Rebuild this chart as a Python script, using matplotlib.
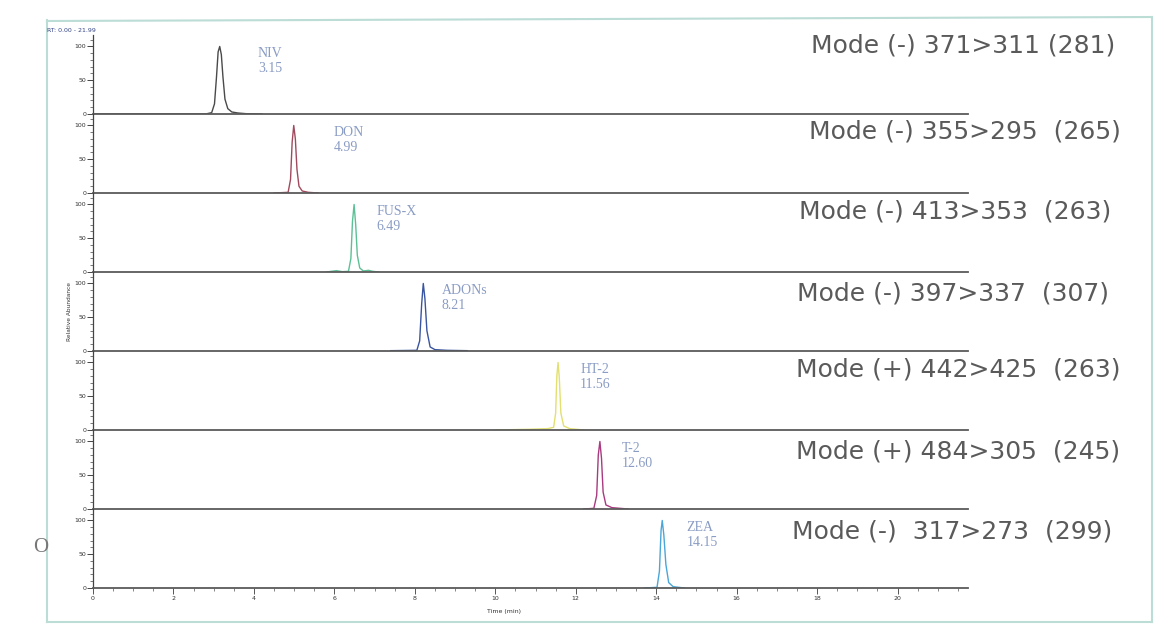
import numpy as np
import matplotlib
matplotlib.use('Agg')
import matplotlib.pyplot as plt
from matplotlib.ticker import MultipleLocator
from matplotlib.lines import Line2D

# compounds, retention times and MRM transitions
names = ['NIV', 'DON', 'FUS-X', 'ADONs', 'HT-2', 'T-2', 'ZEA']
rts = ['3.15', '4.99', '6.49', '8.21', '11.56', '12.60', '14.15']
modes = ['Mode (-) 371>311 (281)',
         'Mode (-) 355>295  (265)',
         'Mode (-) 413>353  (263)',
         'Mode (-) 397>337  (307)',
         'Mode (+) 442>425  (263)',
         'Mode (+) 484>305  (245)',
         'Mode (-)  317>273  (299)']
colors = ['#4a4a4a', '#a04a5e', '#5cc095', '#3a55a0', '#e2e070', '#a83a80', '#4aa6d8']

# trace points (time in min, relative abundance)
t_niv = [0.0, 2.80, 2.95, 3.02, 3.07, 3.11, 3.15, 3.19, 3.23, 3.28, 3.35, 3.45, 3.60, 3.80, 4.20]
y_niv = [0.0, 0.0, 2.0, 15.0, 55.0, 92.0, 100.0, 88.0, 55.0, 22.0, 8.0, 3.0, 1.5, 0.5, 0.0]
t_don = [4.50, 4.85, 4.91, 4.95, 4.99, 5.03, 5.07, 5.12, 5.20, 5.35, 5.60]
y_don = [0.0, 1.0, 20.0, 75.0, 100.0, 80.0, 35.0, 10.0, 3.0, 1.0, 0.0]
t_fus = [5.80, 6.05, 6.20, 6.35, 6.41, 6.45, 6.49, 6.53, 6.57, 6.63, 6.72, 6.85, 6.95, 7.10]
y_fus = [0.0, 2.0, 0.5, 1.0, 20.0, 75.0, 100.0, 70.0, 25.0, 6.0, 1.5, 2.5, 1.0, 0.0]
t_adon = [7.40, 8.05, 8.12, 8.17, 8.21, 8.25, 8.30, 8.38, 8.50, 8.80, 9.30]
y_adon = [0.5, 1.0, 15.0, 70.0, 100.0, 78.0, 30.0, 6.0, 2.0, 1.0, 0.5]
t_ht2 = [10.00, 10.80, 11.30, 11.45, 11.50, 11.53, 11.56, 11.59, 11.63, 11.70, 11.85, 12.20]
y_ht2 = [0.0, 1.0, 2.0, 4.0, 25.0, 80.0, 100.0, 78.0, 25.0, 6.0, 2.0, 0.0]
t_t2 = [12.20, 12.45, 12.52, 12.56, 12.60, 12.64, 12.68, 12.75, 12.90, 13.30]
y_t2 = [0.0, 1.0, 20.0, 80.0, 100.0, 75.0, 25.0, 6.0, 2.0, 0.0]
t_zea = [13.70, 14.02, 14.08, 14.12, 14.15, 14.19, 14.24, 14.31, 14.42, 14.70]
y_zea = [0.0, 1.0, 25.0, 85.0, 100.0, 78.0, 35.0, 8.0, 2.0, 0.0]
times = [t_niv, t_don, t_fus, t_adon, t_ht2, t_t2, t_zea]
values = [y_niv, y_don, y_fus, y_adon, y_ht2, y_t2, y_zea]

W, H = 1155, 626
fig = plt.figure(figsize=(W / 100, H / 100), dpi=100)

# light scan frame
frame = '#bcdcd6'
fig.add_artist(Line2D([47 / W, 47 / W], [1 - 20 / H, 1 - 622 / H], color=frame, lw=1.5))
fig.add_artist(Line2D([1152 / W, 1152 / W], [1 - 18 / H, 1 - 622 / H], color=frame, lw=1.5))
fig.add_artist(Line2D([47 / W, 1152 / W], [1 - 21 / H, 1 - 17 / H], color=frame, lw=1.5))
fig.add_artist(Line2D([47 / W, 1152 / W], [1 - 622 / H, 1 - 622 / H], color=frame, lw=1.5))

x0, x1 = 93, 968
xmax = 21.75
base0 = 114
step = 79
ytop = 117

lab_dx = [0.95, 1.0, 0.55, 0.45, 0.55, 0.55, 0.6]

for i in range(7):
    b = base0 + i * step
    ax = fig.add_axes([x0 / W, 1 - b / H, (x1 - x0) / W, step / H])
    ax.patch.set_alpha(0)
    ax.plot(times[i], values[i], color=colors[i], lw=1.0)
    ax.set_xlim(0, xmax)
    ax.set_ylim(0, ytop)
    for s in ['top', 'right']:
        ax.spines[s].set_visible(False)
    ax.spines['bottom'].set_color('#5a5a5a')
    ax.spines['bottom'].set_linewidth(1.3)
    ax.spines['left'].set_color('#444444')
    ax.spines['left'].set_linewidth(0.9)
    ax.yaxis.set_minor_locator(MultipleLocator(10))
    ax.set_yticks([0, 50, 100])
    ax.set_yticklabels(['0', '50', '100'], fontsize=4.5, color='#333333')
    ax.tick_params(axis='y', which='major', length=4, width=0.7, pad=1, color='#444444')
    ax.tick_params(axis='y', which='minor', length=2, width=0.5, color='#444444')
    if i < 6:
        ax.set_xticks([])
    else:
        ax.xaxis.set_major_locator(MultipleLocator(2))
        ax.xaxis.set_minor_locator(MultipleLocator(0.5))
        ax.tick_params(axis='x', which='major', length=4, width=0.7, pad=2,
                       labelsize=4.5, color='#555555', labelcolor='#333333')
        ax.tick_params(axis='x', which='minor', length=2, width=0.5, color='#555555')
        ax.set_xlabel('Time (min)', fontsize=4.5, color='#333333', labelpad=1)
        ax.xaxis.set_label_coords(0.47, -0.26)
    rt = float(rts[i])
    ax.text(rt + lab_dx[i], 90, names[i], fontsize=10, family='Liberation Serif',
            color='#8a9cc4', va='center', ha='left')
    ax.text(rt + lab_dx[i], 67, rts[i], fontsize=10, family='Liberation Serif',
            color='#8a9cc4', va='center', ha='left')
    if i == 3:
        ax.set_ylabel('Relative Abundance', fontsize=4.2, color='#333333', labelpad=2)

# transition labels on the right (centred on the scanned text)
mode_cx = [963, 965, 955, 953, 958, 958, 952]
mode_y = [45, 131, 212, 293, 370, 451, 532]
for i in range(7):
    fig.text(mode_cx[i] / W, 1 - mode_y[i] / H, modes[i], fontsize=18,
             color='#5a5a5a', va='center', ha='center', family='DejaVu Sans')

fig.text(47 / W, 1 - 31 / H, 'RT: 0.00 - 21.99', fontsize=4.5, color='#334488',
         va='center', ha='left')
fig.text(41 / W, 1 - 548 / H, 'O', fontsize=15, color='#777777', family='Liberation Serif',
         va='center', ha='center')

fig.savefig('out.png', dpi=100)
